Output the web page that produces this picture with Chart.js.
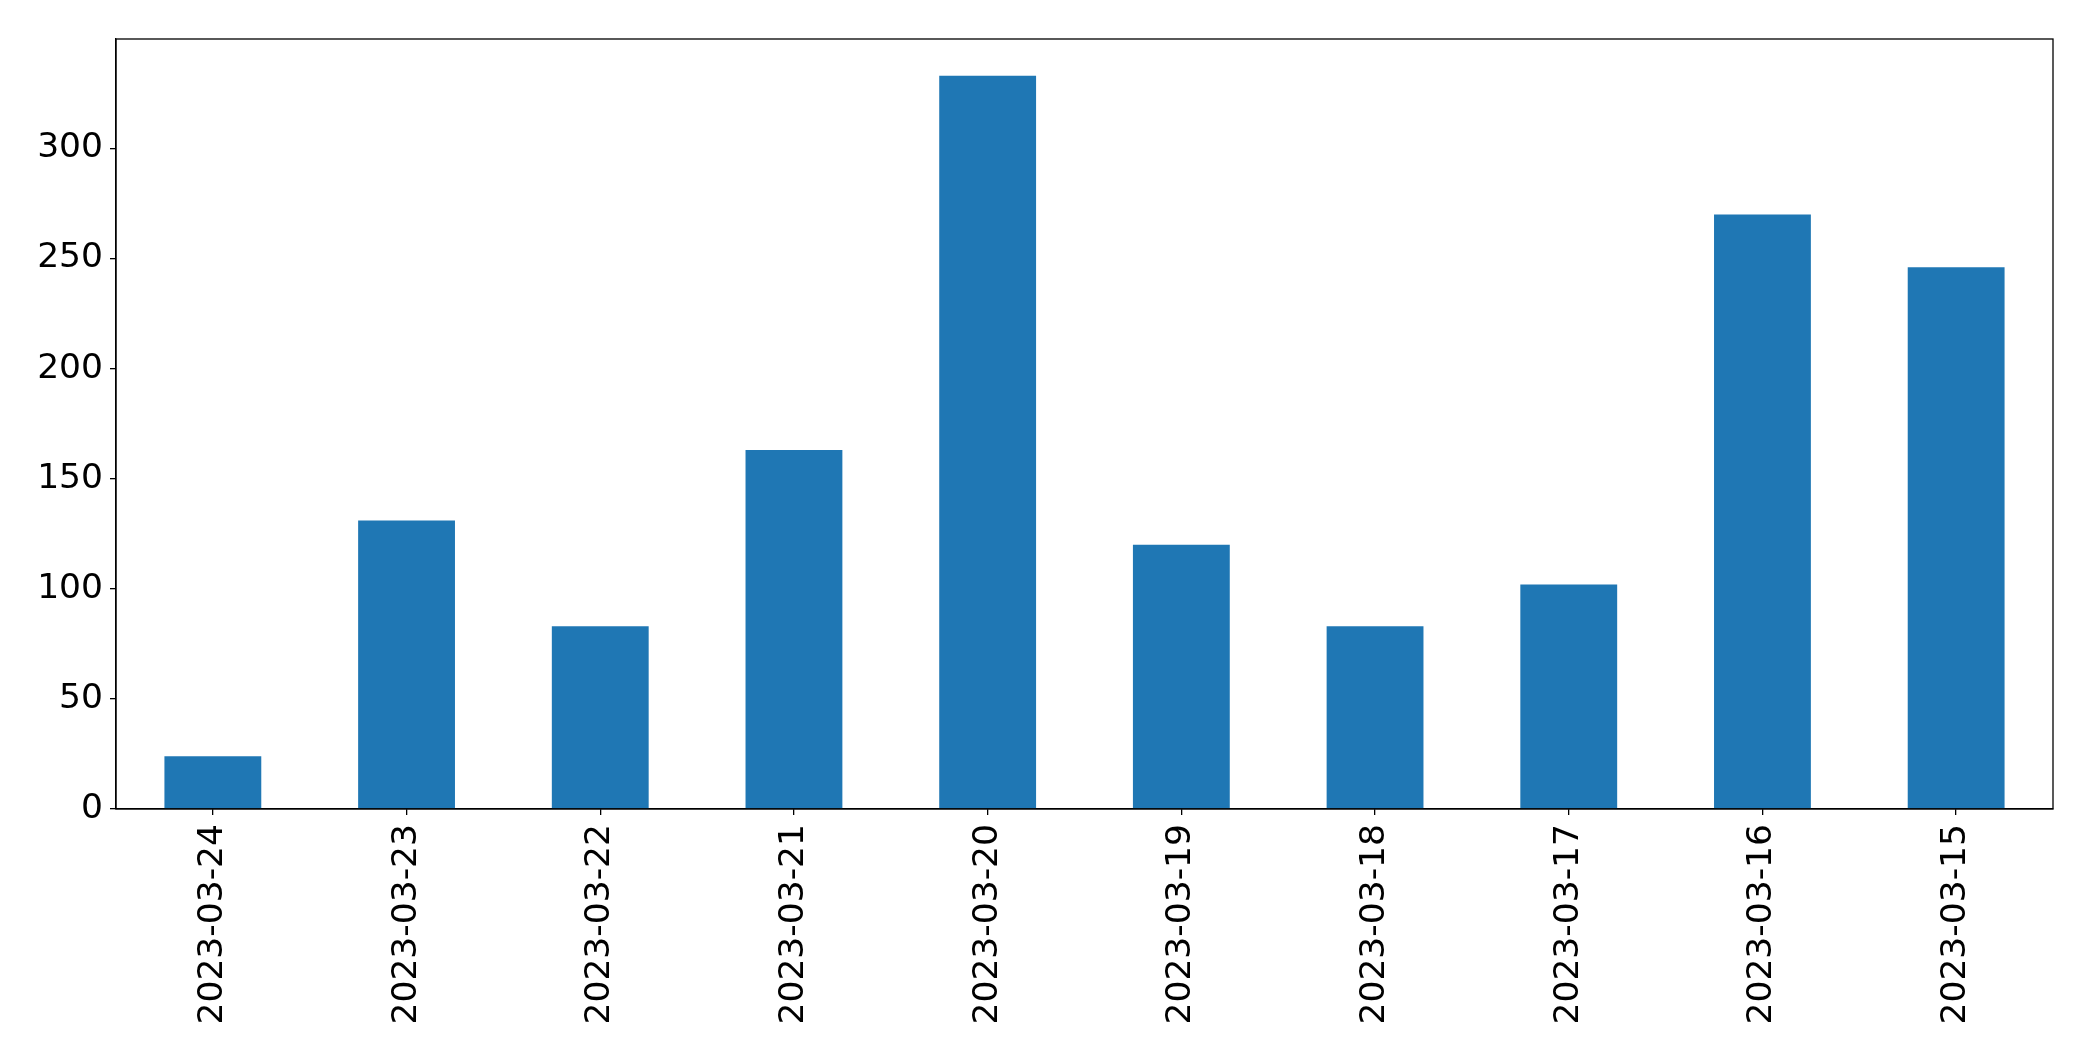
<!DOCTYPE html>
<html>
<head>
<meta charset="utf-8">
<script src="https://cdn.jsdelivr.net/npm/chart.js@4.4.0/dist/chart.umd.min.js"></script>
<style>
  html, body { margin: 0; padding: 0; background: #fff; }
  #wrap { width: 2093px; height: 1061px; }
</style>
</head>
<body>
<div id="wrap"><canvas id="chart" width="2093" height="1061"></canvas></div>
<script>
// --- Data ---
const dates = ['2023-03-24', '2023-03-23', '2023-03-22', '2023-03-21', '2023-03-20',
               '2023-03-19', '2023-03-18', '2023-03-17', '2023-03-16', '2023-03-15'];
const counts = [24, 131, 83, 163, 333, 120, 83, 102, 270, 246];
const yTicks = [0, 50, 100, 150, 200, 250, 300];
const yMax = 349.65;

// frame around the plot area (matplotlib style box)
const boxPlugin = {
    id: 'box',
    afterDraw(chart) {
        const a = chart.chartArea;
        const ctx = chart.ctx;
        ctx.save();
        ctx.strokeStyle = '#000';
        ctx.lineWidth = 1.3;
        ctx.strokeRect(a.left, a.top, a.right - a.left, a.bottom - a.top);
        ctx.restore();
    }
};

const font = { family: 'DejaVu Sans', size: 34.5 };

new Chart(document.getElementById('chart').getContext('2d'), {
    type: 'bar',
    data: {
        labels: dates,
        datasets: [{
            data: counts,
            backgroundColor: '#1f77b4',
            borderWidth: 0,
            barPercentage: 0.5,
            categoryPercentage: 1.0
        }]
    },
    options: {
        responsive: false,
        animation: false,
        layout: { padding: { top: 39, right: 40, left: 0, bottom: 0 } },
        plugins: { legend: { display: false }, tooltip: { enabled: false } },
        scales: {
            x: {
                offset: true,
                grid: { offset: false, drawOnChartArea: false, drawTicks: true, tickLength: 6, color: '#000', lineWidth: 1.3 },
                border: { display: true, color: '#000', width: 1.3 },
                ticks: { color: '#000', font: font, minRotation: 90, maxRotation: 90, padding: 9, autoSkip: false },
                afterFit(scale) { scale.height = 252; }
            },
            y: {
                min: 0,
                max: yMax,
                afterBuildTicks(scale) { scale.ticks = yTicks.map(v => ({ value: v })); },
                grid: { drawOnChartArea: false, drawTicks: true, tickLength: 6, color: '#000', lineWidth: 1.3 },
                border: { display: true, color: '#000', width: 1.3 },
                ticks: { color: '#000', font: font, padding: 7 },
                afterFit(scale) { scale.width = 116; }
            }
        }
    },
    plugins: [boxPlugin]
});
</script>
</body>
</html>
